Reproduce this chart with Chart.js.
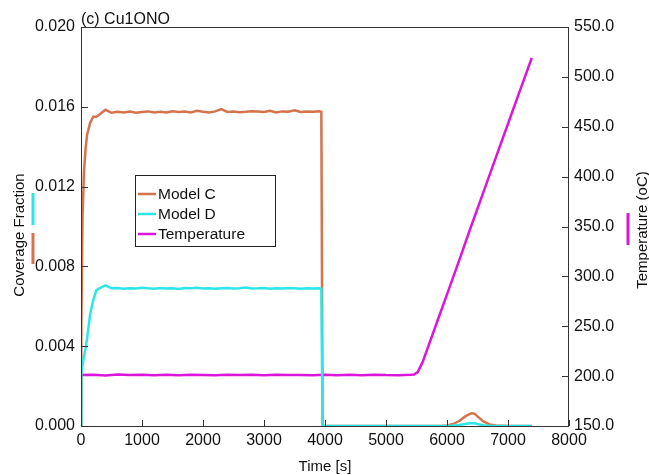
<!DOCTYPE html>
<html>
<head>
<meta charset="utf-8">
<script src="https://cdn.jsdelivr.net/npm/chart.js@4/dist/chart.umd.min.js"></script>
<style>
  html, body { margin: 0; padding: 0; background: #fff; }
  #wrap { width: 649px; height: 475px; position: relative; overflow: hidden; }
</style>
</head>
<body>
<div id="wrap"><canvas id="c" width="649" height="475"></canvas></div>
<script>
var FONT = "'Liberation Sans', Arial, sans-serif";
var COL_C = "#d4734c";
var COL_D = "#2ee6e6";
var COL_T = "#d916d9";

// coverage time base (s)
var timeCov = [0, 5, 25, 50, 75, 100, 150, 200, 250, 300,
  400, 500, 600, 700, 800, 900, 1000, 1100, 1200, 1300, 1400, 1500, 1600, 1700, 1800, 1900,
  2000, 2100, 2200, 2300, 2400, 2500, 2600, 2700, 2800, 2900, 3000, 3100, 3200, 3300, 3400,
  3500, 3600, 3700, 3800, 3900, 3940, 3960, 4000, 4500, 5000, 5500, 5900, 6000, 6100, 6200,
  6300, 6400, 6450, 6500, 6600, 6700, 6800, 7000, 7390];

var modelC = [0, 0.0050, 0.0105, 0.0128, 0.0139, 0.0146, 0.0152, 0.0155, 0.0155, 0.0156,
  0.01585, 0.01570, 0.01575, 0.01572, 0.01576, 0.01570, 0.01574, 0.01577, 0.01572, 0.01575, 0.01571, 0.01578, 0.01574, 0.01576, 0.01572, 0.01580,
  0.01575, 0.01572, 0.01577, 0.01588, 0.01574, 0.01576, 0.01573, 0.01575, 0.01578, 0.01576, 0.01574, 0.01580, 0.01572, 0.01577, 0.01575,
  0.01582, 0.01574, 0.01577, 0.01575, 0.01578, 0.01575, 0, 0, 0, 0, 0, 0, 0.00003, 0.00010, 0.00025,
  0.00048, 0.00064, 0.00062, 0.00048, 0.00022, 0.00008, 0.00003, 0, 0];

var modelD = [0, 0.0026, 0.0031, 0.0035, 0.0039, 0.0044, 0.0056, 0.0063, 0.0068, 0.0069,
  0.00705, 0.00690, 0.00692, 0.00688, 0.00691, 0.00689, 0.00693, 0.00690, 0.00688, 0.00692, 0.00689, 0.00691, 0.00687, 0.00692, 0.00690, 0.00693,
  0.00689, 0.00691, 0.00688, 0.00690, 0.00692, 0.00689, 0.00691, 0.00694, 0.00689, 0.00690, 0.00692, 0.00688, 0.00691, 0.00689, 0.00692,
  0.00690, 0.00688, 0.00691, 0.00689, 0.00690, 0.00688, 0, 0, 0, 0, 0, 0, 0, 0.00002, 0.00005,
  0.00010, 0.00015, 0.00014, 0.00010, 0.00004, 0.00001, 0, 0, 0];

// temperature time base (s) and values (oC)
var timeTemp = [0, 20, 200, 400, 600, 800, 1000, 1200, 1400, 1600, 1800, 2000, 2200, 2400, 2600,
  2800, 3000, 3200, 3400, 3600, 3800, 4000, 4200, 4400, 4600, 4800, 5000, 5200, 5400, 5460,
  5520, 5600, 5800, 6000, 6200, 6400, 6600, 6800, 7000, 7200, 7390];
var temperature = [197.5, 201.2, 201.5, 200.7, 201.6, 201.1, 201.3, 200.9, 201.4, 201.0, 201.5, 201.2, 200.8, 201.4, 201.1,
  201.3, 200.9, 201.5, 201.1, 201.2, 200.8, 201.4, 201.0, 201.3, 200.9, 201.5, 201.1, 201.0, 201.3, 201.5,
  204, 214, 248, 282, 316, 351, 385, 419, 453, 487, 519];

var xTicks = [0, 1000, 2000, 3000, 4000, 5000, 6000, 7000, 8000];

function pts(xs, ys) {
  return xs.map(function (x, i) { return { x: x, y: ys[i] }; });
}

var extras = {
  id: "extras",
  afterDraw: function (chart) {
    var ctx = chart.ctx;
    var a = chart.chartArea;
    var sx = chart.scales.x, sy = chart.scales.y, sy1 = chart.scales.y1;
    ctx.save();
    // frame
    ctx.strokeStyle = "#333";
    ctx.lineWidth = 1;
    ctx.strokeRect(a.left + 0.5, a.top + 0.5, a.right - a.left - 1, a.bottom - a.top);
    // inward ticks
    ctx.beginPath();
    sx.ticks.forEach(function (t) {
      var px = Math.round(sx.getPixelForValue(t.value)) + 0.5;
      ctx.moveTo(px, a.bottom); ctx.lineTo(px, a.bottom - 6);
    });
    sy.ticks.forEach(function (t) {
      var py = Math.round(sy.getPixelForValue(t.value)) + 0.5;
      ctx.moveTo(a.left, py); ctx.lineTo(a.left + 7, py);
    });
    sy1.ticks.forEach(function (t) {
      var py = Math.round(sy1.getPixelForValue(t.value)) + 0.5;
      ctx.moveTo(a.right, py); ctx.lineTo(a.right - 7, py);
    });
    ctx.stroke();

    ctx.fillStyle = "#111";
    // panel title
    ctx.font = "16px " + FONT;
    ctx.textAlign = "left";
    ctx.textBaseline = "alphabetic";
    ctx.fillText("(c) Cu1ONO", a.left, 24);
    // x title
    ctx.textAlign = "center";
    ctx.textBaseline = "top";
    ctx.font = "15px " + FONT;
    ctx.fillText("Time [s]", 325, 459);
    // left title
    ctx.save();
    ctx.translate(20, 235);
    ctx.rotate(-Math.PI / 2);
    ctx.textBaseline = "middle";
    ctx.fillText("Coverage Fraction", 0, 0);
    ctx.restore();
    // right title
    ctx.save();
    ctx.translate(643, 230);
    ctx.rotate(-Math.PI / 2);
    ctx.textBaseline = "middle";
    ctx.fillText("Temperature (oC)", 0, 0);
    ctx.restore();
    // axis colour markers
    ctx.lineWidth = 3;
    ctx.strokeStyle = COL_D;
    ctx.beginPath(); ctx.moveTo(33, 193); ctx.lineTo(33, 225); ctx.stroke();
    ctx.strokeStyle = COL_C;
    ctx.beginPath(); ctx.moveTo(33, 233); ctx.lineTo(33, 264); ctx.stroke();
    ctx.strokeStyle = COL_T;
    ctx.beginPath(); ctx.moveTo(628, 213); ctx.lineTo(628, 245); ctx.stroke();

    // legend box
    ctx.lineWidth = 1;
    ctx.strokeStyle = "#222";
    ctx.fillStyle = "#fff";
    ctx.fillRect(135.5, 175.5, 140, 71);
    ctx.strokeRect(135.5, 175.5, 140, 71);
    var items = [["Model C", COL_C], ["Model D", COL_D], ["Temperature", COL_T]];
    ctx.font = "15.5px " + FONT;
    ctx.textAlign = "left";
    ctx.textBaseline = "middle";
    items.forEach(function (it, i) {
      var y = 194 + i * 20;
      ctx.strokeStyle = it[1];
      ctx.lineWidth = 2.5;
      ctx.beginPath(); ctx.moveTo(138, y); ctx.lineTo(156, y); ctx.stroke();
      ctx.fillStyle = "#111";
      ctx.fillText(it[0], 158, y + 1);
    });
    ctx.restore();
  }
};

new Chart(document.getElementById("c"), {
  type: "line",
  data: {
    datasets: [
      { label: "Model D", data: pts(timeCov, modelD), borderColor: COL_D, borderWidth: 2.5, pointRadius: 0, yAxisID: "y", order: 0 },
      { label: "Model C", data: pts(timeCov, modelC), borderColor: COL_C, borderWidth: 2.5, pointRadius: 0, yAxisID: "y", order: 1 },
      { label: "Temperature", data: pts(timeTemp, temperature), borderColor: COL_T, borderWidth: 2.5, pointRadius: 0, yAxisID: "y1", order: 2 }
    ]
  },
  options: {
    responsive: false,
    devicePixelRatio: 1,
    animation: false,
    layout: { padding: { top: 27, left: 0, right: 0, bottom: 0 } },
    plugins: { legend: { display: false }, tooltip: { enabled: false } },
    scales: {
      x: {
        type: "linear", min: 0, max: 8000,
        afterBuildTicks: function (s) { s.ticks = xTicks.map(function (v) { return { value: v }; }); },
        ticks: { color: "#111", font: { family: FONT, size: 16 }, padding: 5, maxRotation: 0, callback: function (v) { return String(v); } },
        grid: { display: false, drawTicks: false },
        border: { display: false },
        afterFit: function (s) { s.height = 49; }
      },
      y: {
        position: "left", min: 0, max: 0.02,
        ticks: { stepSize: 0.004, color: "#111", font: { family: FONT, size: 16 }, padding: 6, callback: function (v) { return v.toFixed(3); } },
        grid: { display: false, drawTicks: false },
        border: { display: false },
        afterFit: function (s) { s.width = 81; }
      },
      y1: {
        position: "right", min: 150, max: 550,
        ticks: { stepSize: 50, color: "#111", font: { family: FONT, size: 16 }, padding: 5, callback: function (v) { return v.toFixed(1); } },
        grid: { display: false, drawTicks: false },
        border: { display: false },
        afterFit: function (s) { s.width = 80; }
      }
    }
  },
  plugins: [extras]
});
</script>
</body>
</html>
